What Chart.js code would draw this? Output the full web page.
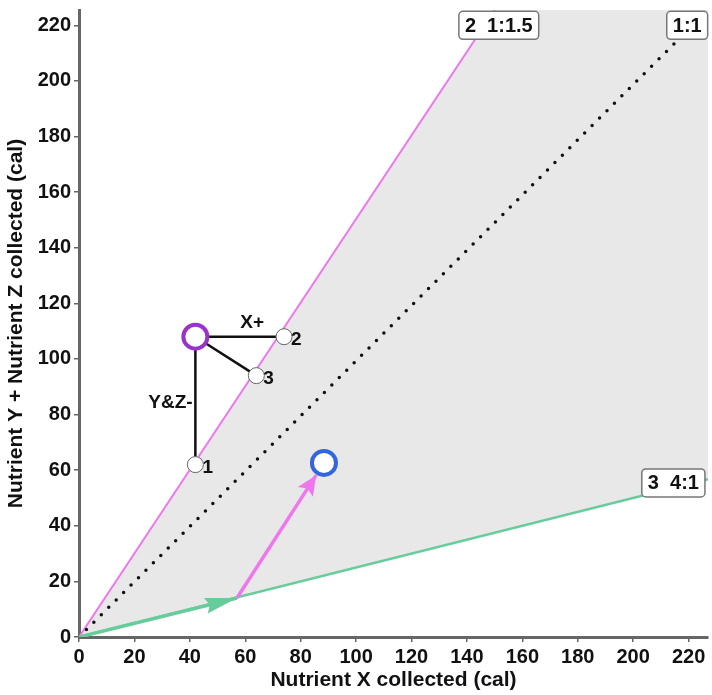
<!DOCTYPE html>
<html>
<head>
<meta charset="utf-8">
<script src="https://cdn.jsdelivr.net/npm/chart.js@4"></script>
<style>
  html, body { margin: 0; padding: 0; background: #fff; overflow: hidden; }
  canvas { display: block; }
</style>
</head>
<body>
<canvas id="chart" width="712" height="695"></canvas>
<script>
const xMax = 227;
const yMax = 225.5;
const xTicks = [0, 20, 40, 60, 80, 100, 120, 140, 160, 180, 200, 220];
const yTicks = [0, 20, 40, 60, 80, 100, 120, 140, 160, 180, 200, 220];

// ratio lines and shaded feasible region
const shadedRegion = [{x: 0, y: 0}, {x: 150, y: 225.5}, {x: 227, y: 225.5}, {x: 227, y: 56.75}, {x: 0, y: 0}];
const line15 = [{x: 0, y: 0}, {x: 150, y: 225.5}];
const line11 = [{x: 0, y: 0}, {x: 227, y: 225.5}];
const line41 = [{x: 0, y: 0}, {x: 227, y: 56.75}];

// arrows
const greenArrow = [{x: 0, y: 0}, {x: 57, y: 14}];
const pinkArrow = [{x: 57, y: 14}, {x: 85.6, y: 58.2}];

// points
const startPoint = [{x: 42, y: 108}];
const targetPoint = [{x: 88.4, y: 62.6}];
const optionPoints = [{x: 42, y: 62}, {x: 74, y: 108}, {x: 64, y: 94}];
const optionNames = ['1', '2', '3'];

// text
const boxLabels = [
  {x: 151.5, y: 220, text: '2  1:1.5'},
  {x: 219.5, y: 220, text: '1:1'},
  {x: 214.5, y: 55.4, text: '3  4:1'}
];
const edgeLabels = [
  {x: 62.5, y: 113, text: 'X+'},
  {x: 33, y: 84.2, text: 'Y&Z-'}
];

const FONT = '"Liberation Sans", Arial, sans-serif';
const PINK = '#ee77ee';
const GREEN = '#66cc99';

const overlay = {
  id: 'overlay',
  afterDatasetsDraw(chart) {
    const c = chart.ctx;
    const xs = chart.scales.x, ys = chart.scales.y;

    // arrowheads
    chart.data.datasets.forEach((ds, i) => {
      if (!ds.arrow) return;
      const pts = chart.getDatasetMeta(i).data;
      const a = pts[pts.length - 2], b = pts[pts.length - 1];
      const ang = Math.atan2(b.y - a.y, b.x - a.x);
      const len = ds.arrow.len, half = ds.arrow.half;
      c.save();
      c.translate(b.x, b.y);
      c.rotate(ang);
      c.beginPath();
      c.moveTo(0, 0);
      c.lineTo(-len, -half);
      c.lineTo(-len + 4, 0);
      c.lineTo(-len, half);
      c.closePath();
      c.fillStyle = ds.borderColor;
      c.fill();
      c.restore();
    });

    c.save();
    c.font = 'bold 19px ' + FONT;
    c.fillStyle = '#111';
    c.textBaseline = 'middle';

    // option numbers
    c.textAlign = 'left';
    optionPoints.forEach((p, i) => {
      c.fillText(optionNames[i], xs.getPixelForValue(p.x) + 7, ys.getPixelForValue(p.y) + 3);
    });

    // edge labels
    c.textAlign = 'center';
    edgeLabels.forEach(l => {
      c.fillText(l.text, xs.getPixelForValue(l.x), ys.getPixelForValue(l.y));
    });

    // boxed line labels
    c.font = 'bold 20px ' + FONT;
    boxLabels.forEach(l => {
      const px = xs.getPixelForValue(l.x), py = ys.getPixelForValue(l.y);
      const w = c.measureText(l.text).width + 12, h = 28;
      c.beginPath();
      c.roundRect(px - w / 2, py - h / 2, w, h, 4);
      c.fillStyle = '#fff';
      c.fill();
      c.lineWidth = 1.5;
      c.strokeStyle = '#777';
      c.stroke();
      c.fillStyle = '#111';
      c.fillText(l.text, px, py + 1);
    });
    c.restore();
  }
};

const datasets = [
  {data: shadedRegion, showLine: true, fill: 'shape', backgroundColor: '#e8e8e8', borderWidth: 0, pointRadius: 0, order: 20},
  {data: line15, showLine: true, borderColor: PINK, borderWidth: 2, pointRadius: 0, order: 15},
  {data: line41, showLine: true, borderColor: GREEN, borderWidth: 2.5, pointRadius: 0, order: 15},
  {data: line11, showLine: true, borderColor: '#111', borderWidth: 3.5, borderDash: [0, 10.5], borderCapStyle: 'round', pointRadius: 0, order: 14},
  {data: greenArrow, showLine: true, borderColor: GREEN, borderWidth: 3.5, pointRadius: 0, arrow: {len: 32, half: 8}, order: 12},
  {data: pinkArrow, showLine: true, borderColor: PINK, borderWidth: 3.5, pointRadius: 0, arrow: {len: 20, half: 9}, order: 12}
];
optionPoints.forEach(p => {
  datasets.push({data: [startPoint[0], p], showLine: true, borderColor: '#111', borderWidth: 2.5, pointRadius: 0, order: 10});
});
datasets.push(
  {data: optionPoints, showLine: false, pointRadius: 8, pointBackgroundColor: '#fff', pointBorderColor: '#666', pointBorderWidth: 1, order: 5},
  {data: startPoint, showLine: false, pointRadius: 12, pointBackgroundColor: '#fff', pointBorderColor: '#9933cc', pointBorderWidth: 4, order: 4},
  {data: targetPoint, showLine: false, pointRadius: 12, pointBackgroundColor: '#fff', pointBorderColor: '#3366dd', pointBorderWidth: 4, order: 4}
);

const axisTicks = {color: '#111', font: {family: FONT, size: 20, weight: 'bold'}, padding: 3, autoSkip: false, maxRotation: 0};

new Chart(document.getElementById('chart'), {
  type: 'scatter',
  data: {datasets},
  options: {
    responsive: false,
    animation: false,
    layout: {autoPadding: false, padding: {top: 10, right: 4, left: 0, bottom: 0}},
    plugins: {legend: {display: false}, tooltip: {enabled: false}},
    scales: {
      x: {
        type: 'linear', min: 0, max: xMax,
        ticks: axisTicks,
        afterBuildTicks(s) { s.ticks = xTicks.map(v => ({value: v})); },
        grid: {drawOnChartArea: false, drawTicks: true, tickLength: 5, color: '#666', lineWidth: 1.5},
        border: {display: true, color: '#666', width: 3},
        title: {display: true, text: 'Nutrient X collected (cal)', color: '#111', font: {family: FONT, size: 21, weight: 'bold'}, padding: {top: 0, bottom: 2}},
        afterFit(s) { s.height = 58; s.paddingRight = 0; }
      },
      y: {
        type: 'linear', min: 0, max: yMax,
        ticks: axisTicks,
        afterBuildTicks(s) { s.ticks = yTicks.map(v => ({value: v})); },
        grid: {drawOnChartArea: false, drawTicks: true, tickLength: 5, color: '#666', lineWidth: 1.5},
        border: {display: true, color: '#666', width: 3},
        title: {display: true, text: 'Nutrient Y + Nutrient Z collected (cal)', color: '#111', font: {family: FONT, size: 21, weight: 'bold'}, padding: {top: 4, bottom: 2}},
        afterFit(s) { s.width = 79; s.paddingTop = 0; }
      }
    }
  },
  plugins: [overlay]
});
</script>
</body>
</html>
